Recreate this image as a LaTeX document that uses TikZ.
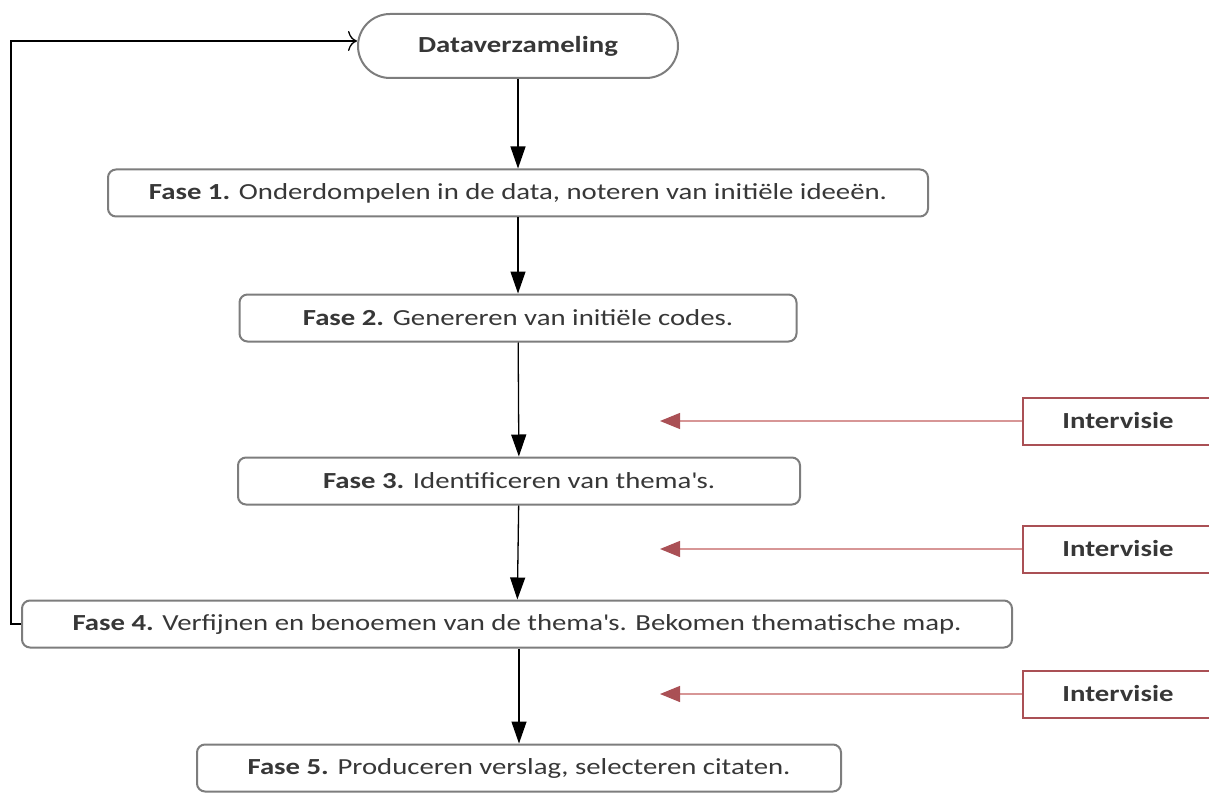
\documentclass[tikz,border=0pt]{standalone}
\usepackage{fontspec}
\setmainfont{Carlito}[FakeStretch=1.25]
\usetikzlibrary{arrows.meta}

\definecolor{boxgray}{RGB}{125,125,125}
\definecolor{txtgray}{RGB}{55,55,55}
\definecolor{ivred}{RGB}{170,80,85}
\definecolor{ivline}{RGB}{215,150,150}

\tikzset{
  fase/.style={draw=boxgray, line width=2pt, rounded corners=8pt, fill=white,
    minimum height=47pt, inner sep=0pt, text=txtgray},
  ivbox/.style={draw=ivred, line width=2pt, fill=white, minimum height=47pt,
    minimum width=190pt, inner sep=0pt, text=txtgray},
  flow/.style={line width=1.3pt, -{Triangle[length=22pt,width=15pt]}},
  ivarrow/.style={draw=ivline, line width=1.2pt, -{Triangle[length=20pt,width=16pt,color=ivred]}}
}

\begin{document}
\begin{tikzpicture}[x=1pt,y=-1pt,font=\fontsize{23}{27}\selectfont]
\useasboundingbox (0,0) rectangle (1209,794);

\node [fase, rounded corners=32pt, minimum width=320pt, minimum height=64pt] (data) at (518,46) {\textbf{Dataverzameling}};
\node [fase, minimum width=820pt] (f1) at (518,193) {\textbf{Fase 1.} Onderdompelen in de data, noteren van initiële ideeën.};
\node [fase, minimum width=557pt] (f2) at (518,318) {\textbf{Fase 2.} Genereren van initiële codes.};
\node [fase, minimum width=562pt] (f3) at (519,481) {\textbf{Fase 3.} Identificeren van thema\textquotesingle s.};
\node [fase, minimum width=990pt] (f4) at (517,624) {\textbf{Fase 4.} Verfijnen en benoemen van de thema\textquotesingle s. Bekomen thematische map.};
\node [fase, minimum width=644pt] (f5) at (519,768) {\textbf{Fase 5.} Produceren verslag, selecteren citaten.};

\node [ivbox] (iv1) at (1118,421) {\textbf{Intervisie}};
\node [ivbox] (iv2) at (1118,549) {\textbf{Intervisie}};
\node [ivbox] (iv3) at (1118,694) {\textbf{Intervisie}};

\coordinate (t1) at (660,421);
\coordinate (t2) at (660,549);
\coordinate (t3) at (660,694);

\draw [flow] (data) -- (f1);
\draw [flow] (f1) -- (f2);
\draw [flow] (f2) -- (f3);
\draw [flow] (f3) -- (f4);
\draw [flow] (f4.south -| f3) -- (f5.north -| f3);

\draw [ivarrow] (iv1) -- (t1);
\draw [ivarrow] (iv2) -- (t2);
\draw [ivarrow] (iv3) -- (t3);

\draw [line width=1.3pt, -{To[length=9pt,width=20pt]}] (f4.west) -- ++(-10,0) |- ([yshift=5pt]data.west);

\end{tikzpicture}
\end{document}
